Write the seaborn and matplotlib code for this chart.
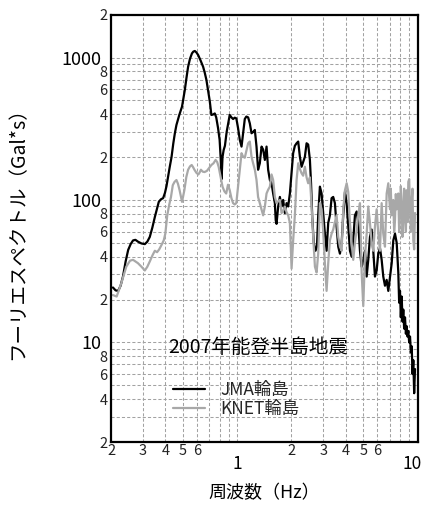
import matplotlib
matplotlib.use("Agg")
import matplotlib.pyplot as plt
import numpy as np
import pandas as pd
import seaborn as sns
from matplotlib.ticker import FixedLocator, FixedFormatter
from matplotlib.lines import Line2D
from matplotlib.transforms import ScaledTranslation

# Fourier amplitude spectra, 2007 Noto Peninsula earthquake (Wajima)
jma_freq = [0.205, 0.212, 0.219, 0.226, 0.233, 0.241, 0.249, 0.257, 0.265, 0.273,
            0.282, 0.295, 0.308, 0.318, 0.328, 0.339, 0.350, 0.359, 0.368, 0.378,
            0.389, 0.398, 0.406, 0.414, 0.423, 0.433, 0.443, 0.452, 0.461, 0.478,
            0.495, 0.513, 0.524, 0.535, 0.548, 0.562, 0.572, 0.583, 0.595, 0.608,
            0.628, 0.648, 0.662, 0.676, 0.690, 0.706, 0.720, 0.736, 0.752, 0.766,
            0.784, 0.800, 0.812, 0.820, 0.830, 0.842, 0.856, 0.875, 0.892, 0.910,
            0.930, 0.950, 0.970, 0.990, 1.012, 1.035, 1.058, 1.080, 1.103, 1.125,
            1.151, 1.176, 1.202, 1.228, 1.254, 1.281, 1.307, 1.336, 1.366, 1.394,
            1.425, 1.456, 1.486, 1.519, 1.552, 1.584, 1.619, 1.637, 1.654, 1.689,
            1.726, 1.764, 1.800, 1.839, 1.880, 1.919, 1.961, 2.004, 2.045, 2.090,
            2.136, 2.181, 2.228, 2.277, 2.323, 2.375, 2.427, 2.477, 2.532, 2.570,
            2.610, 2.660, 2.720, 2.770, 2.815, 2.877, 2.940, 3.000, 3.066, 3.133,
            3.199, 3.268, 3.340, 3.409, 3.484, 3.561, 3.635, 3.715, 3.797, 3.875,
            3.961, 4.048, 4.130, 4.221, 4.313, 4.402, 4.499, 4.598, 4.693, 4.796,
            4.901, 5.003, 5.113, 5.225, 5.333, 5.450, 5.569, 5.684, 5.809, 5.936,
            6.059, 6.192, 6.327, 6.459, 6.601, 6.745, 6.887, 7.038, 7.192, 7.341,
            7.501, 7.666, 7.825, 7.910, 7.996, 8.080, 8.171, 8.260, 8.340, 8.430,
            8.524, 8.620, 8.711, 8.800, 8.892, 8.990, 9.087, 9.190, 9.286, 9.380,
            9.478, 9.580, 9.685]
jma_amp = [24.3, 23.2, 23.0, 25.0, 29.0, 37.0, 44.6, 49.0, 52.0, 52.5,
           51.0, 49.5, 49.0, 51.0, 55.0, 64.0, 76.0, 86.0, 97.0, 101.0,
           103.0, 112.0, 125.0, 145.0, 170.0, 200.0, 250.0, 295.0, 336.0, 395.0,
           452.0, 591.0, 720.0, 861.0, 980.0, 1069.0, 1100.0, 1111.0, 1085.0, 1042.0,
           950.0, 861.0, 780.0, 695.0, 590.0, 490.0, 395.0, 398.0, 405.0, 380.0,
           320.0, 264.0, 190.0, 140.0, 200.0, 224.0, 240.0, 300.0, 345.0, 395.0,
           380.0, 370.0, 378.0, 374.0, 320.0, 264.0, 237.0, 294.0, 370.0, 385.0,
           380.0, 345.0, 294.0, 300.0, 310.0, 237.0, 163.0, 181.0, 237.0, 226.0,
           191.0, 237.0, 163.0, 138.0, 131.0, 111.0, 95.0, 72.0, 68.0, 90.0,
           105.0, 90.0, 100.0, 81.0, 95.0, 90.0, 111.0, 154.0, 213.0, 240.0,
           250.0, 257.0, 201.0, 171.0, 185.0, 201.0, 250.0, 245.0, 191.0, 130.0,
           75.0, 50.0, 44.0, 47.0, 78.0, 124.0, 111.0, 81.0, 58.0, 44.0,
           69.0, 78.0, 103.0, 105.0, 95.0, 65.0, 47.0, 42.0, 50.0, 78.0,
           114.0, 95.0, 65.0, 44.0, 40.0, 52.0, 78.0, 83.0, 69.0, 44.0,
           34.0, 38.0, 44.0, 29.0, 38.0, 55.0, 62.0, 44.0, 29.0, 32.0,
           42.0, 46.0, 38.0, 29.0, 25.0, 27.5, 23.0, 29.0, 36.0, 52.0,
           58.0, 50.0, 31.0, 19.0, 23.0, 15.0, 21.0, 14.0, 17.0, 12.5,
           15.0, 11.5, 13.0, 11.0, 12.0, 10.0, 11.0, 8.5, 9.4, 6.0,
           7.5, 4.4, 6.5]

knet_freq = [0.205, 0.215, 0.228, 0.243, 0.255, 0.265, 0.282, 0.295, 0.308, 0.318,
             0.328, 0.340, 0.350, 0.360, 0.370, 0.380, 0.392, 0.400, 0.410, 0.420,
             0.430, 0.440, 0.450, 0.461, 0.470, 0.480, 0.495, 0.510, 0.523, 0.535,
             0.548, 0.560, 0.570, 0.580, 0.595, 0.610, 0.620, 0.630, 0.645, 0.660,
             0.680, 0.700, 0.720, 0.740, 0.760, 0.775, 0.790, 0.810, 0.830, 0.850,
             0.870, 0.890, 0.910, 0.930, 0.950, 0.970, 0.990, 1.012, 1.035, 1.058,
             1.080, 1.103, 1.125, 1.151, 1.176, 1.202, 1.228, 1.254, 1.281, 1.307,
             1.336, 1.366, 1.394, 1.425, 1.456, 1.486, 1.519, 1.552, 1.584, 1.619,
             1.654, 1.689, 1.726, 1.764, 1.800, 1.839, 1.880, 1.919, 1.961, 2.004,
             2.045, 2.090, 2.136, 2.181, 2.228, 2.277, 2.323, 2.375, 2.427, 2.477,
             2.532, 2.587, 2.641, 2.700, 2.758, 2.815, 2.877, 2.940, 3.000, 3.066,
             3.133, 3.199, 3.268, 3.340, 3.409, 3.484, 3.561, 3.635, 3.715, 3.797,
             3.875, 3.961, 4.048, 4.130, 4.221, 4.313, 4.402, 4.499, 4.598, 4.693,
             4.796, 4.901, 5.003, 5.113, 5.225, 5.333, 5.450, 5.569, 5.684, 5.809,
             5.936, 6.059, 6.192, 6.327, 6.459, 6.601, 6.670, 6.745, 6.887, 7.038,
             7.110, 7.192, 7.341, 7.420, 7.501, 7.580, 7.666, 7.825, 7.910, 7.996,
             8.080, 8.171, 8.250, 8.340, 8.430, 8.524, 8.620, 8.711, 8.800, 8.892,
             8.990, 9.087, 9.190, 9.286, 9.380, 9.478, 9.580, 9.685]
knet_amp = [21.5, 21.0, 26.0, 34.0, 37.5, 38.0, 36.0, 34.0, 32.0, 34.0,
            37.0, 41.0, 44.0, 43.0, 45.0, 48.0, 52.0, 58.0, 78.0, 92.0,
            105.0, 127.0, 134.0, 138.0, 130.0, 117.0, 97.0, 117.0, 145.0, 163.0,
            172.0, 176.0, 170.0, 163.0, 155.0, 151.0, 156.0, 163.0, 158.0, 157.0,
            160.0, 168.0, 176.0, 181.0, 191.0, 185.0, 171.0, 145.0, 124.0, 115.0,
            111.0, 128.0, 117.0, 103.0, 95.0, 93.0, 95.0, 125.0, 163.0, 213.0,
            201.0, 198.0, 220.0, 250.0, 257.0, 201.0, 180.0, 163.0, 138.0, 105.0,
            95.0, 86.0, 78.0, 90.0, 111.0, 118.0, 124.0, 151.0, 138.0, 105.0,
            95.0, 98.0, 100.0, 81.0, 84.0, 90.0, 82.0, 78.0, 69.0, 33.0,
            52.0, 78.0, 138.0, 181.0, 165.0, 154.0, 148.0, 171.0, 144.0, 131.0,
            144.0, 90.0, 55.0, 34.0, 31.0, 42.0, 95.0, 86.0, 60.0, 36.0,
            23.0, 36.0, 52.0, 58.0, 62.0, 70.0, 78.0, 55.0, 47.0, 44.0,
            86.0, 117.0, 131.0, 114.0, 69.0, 50.0, 38.0, 50.0, 62.0, 78.0,
            95.0, 31.0, 18.0, 40.0, 58.0, 90.0, 69.0, 50.0, 44.0, 65.0,
            86.0, 58.0, 44.0, 95.0, 58.0, 47.0, 70.0, 111.0, 131.0, 86.0,
            120.0, 78.0, 100.0, 60.0, 72.0, 110.0, 86.0, 111.0, 60.0, 78.0,
            125.0, 95.0, 55.0, 69.0, 120.0, 100.0, 60.0, 117.0, 70.0, 134.0,
            140.0, 86.0, 60.0, 100.0, 120.0, 52.0, 45.0, 81.0]

station_names = ["JMA輪島", "KNET輪島"]
station_colors = ["#000000", "#a8a8a8"]
event_title = "2007年能登半島地震"

x_major = [1, 10]
x_major_labels = ["1", "10"]
x_minor = [0.2, 0.3, 0.4, 0.5, 0.6, 0.7, 0.8, 0.9, 2, 3, 4, 5, 6, 7, 8, 9]
x_minor_labels = ["2", "3", "4", "5", "6", "", "", "", "2", "3", "4", "5", "6", "", "", ""]
y_major = [10, 100, 1000]
y_major_labels = ["10", "100", "1000"]
y_mantissa = [2, 3, 4, 5, 6, 7, 8, 9]
y_mantissa_labels = ["2", "", "4", "", "6", "", "8", ""]

sns.set_theme(style="white")
plt.rcParams["font.family"] = ["Noto Sans CJK JP", "DejaVu Sans"]

df = pd.concat([
    pd.DataFrame({"freq": jma_freq, "amp": jma_amp, "station": station_names[0]}),
    pd.DataFrame({"freq": knet_freq, "amp": knet_amp, "station": station_names[1]}),
], ignore_index=True)

fig = plt.figure(figsize=(4.25, 5.13), dpi=100)
fig.patch.set_facecolor("white")
ax = fig.add_axes([0.2612, 0.1384, 0.7212, 0.8331])

sns.lineplot(data=df, x="freq", y="amp", hue="station", hue_order=station_names,
             palette=dict(zip(station_names, station_colors)), estimator=None,
             sort=False, linewidth=1.6, legend=False, ax=ax)

ax.set_xscale("log")
ax.set_yscale("log")
ax.set_xlim(0.2, 10)
ax.set_ylim(2, 2000)

# tick positions and labels
ax.xaxis.set_major_locator(FixedLocator(x_major))
ax.xaxis.set_major_formatter(FixedFormatter(x_major_labels))
ax.xaxis.set_minor_locator(FixedLocator(x_minor))
ax.xaxis.set_minor_formatter(FixedFormatter(x_minor_labels))

y_minor = [m * d for d in (1, 10, 100) for m in y_mantissa] + [2000]
y_minor_labels = [lab for d in (1, 10, 100) for lab in y_mantissa_labels] + ["2"]
ax.yaxis.set_major_locator(FixedLocator(y_major))
ax.yaxis.set_major_formatter(FixedFormatter(y_major_labels))
ax.yaxis.set_minor_locator(FixedLocator(y_minor))
ax.yaxis.set_minor_formatter(FixedFormatter(y_minor_labels))

ax.tick_params(axis="x", which="major", length=0, pad=9, labelsize=12.5, labelcolor="black")
ax.tick_params(axis="x", which="minor", length=0, pad=1.5, labelsize=10.5, labelcolor="#222222")
ax.tick_params(axis="y", which="major", length=0, pad=7, labelsize=13, labelcolor="black")
ax.tick_params(axis="y", which="minor", length=0, pad=2.5, labelsize=10.5, labelcolor="#222222")

# keep the right-most decade label inside the canvas
last_tick = ax.xaxis.get_major_ticks()[-1]
last_tick.label1.set_transform(last_tick.label1.get_transform()
                               + ScaledTranslation(-4 / 72, 0, fig.dpi_scale_trans))

ax.grid(which="both", color="#a2a2a2", linestyle=(0, (3, 2)), linewidth=0.75)
ax.set_axisbelow(True)

for side, spine in ax.spines.items():
    spine.set_color("black")
    spine.set_linewidth(1.6)

ax.set_xlabel("周波数（Hz）", fontsize=13, labelpad=8.5, color="black")
ax.set_ylabel("フーリエスペクトル（Gal*s）", fontsize=14, color="black")
ax.yaxis.set_label_coords(-0.27, 0.5)

ax.text(0.186, 0.222, event_title, transform=ax.transAxes, fontsize=14,
        ha="left", va="center", color="black")

handles = [Line2D([], [], color=c, linewidth=1.6) for c in station_colors]
ax.legend(handles, station_names, loc="center left", bbox_to_anchor=(0.202, 0.099),
          frameon=False, fontsize=12.5, handlelength=1.85, handletextpad=0.9,
          labelspacing=0.08, borderpad=0, borderaxespad=0)

fig.savefig("out.png", dpi=100, facecolor="white")
